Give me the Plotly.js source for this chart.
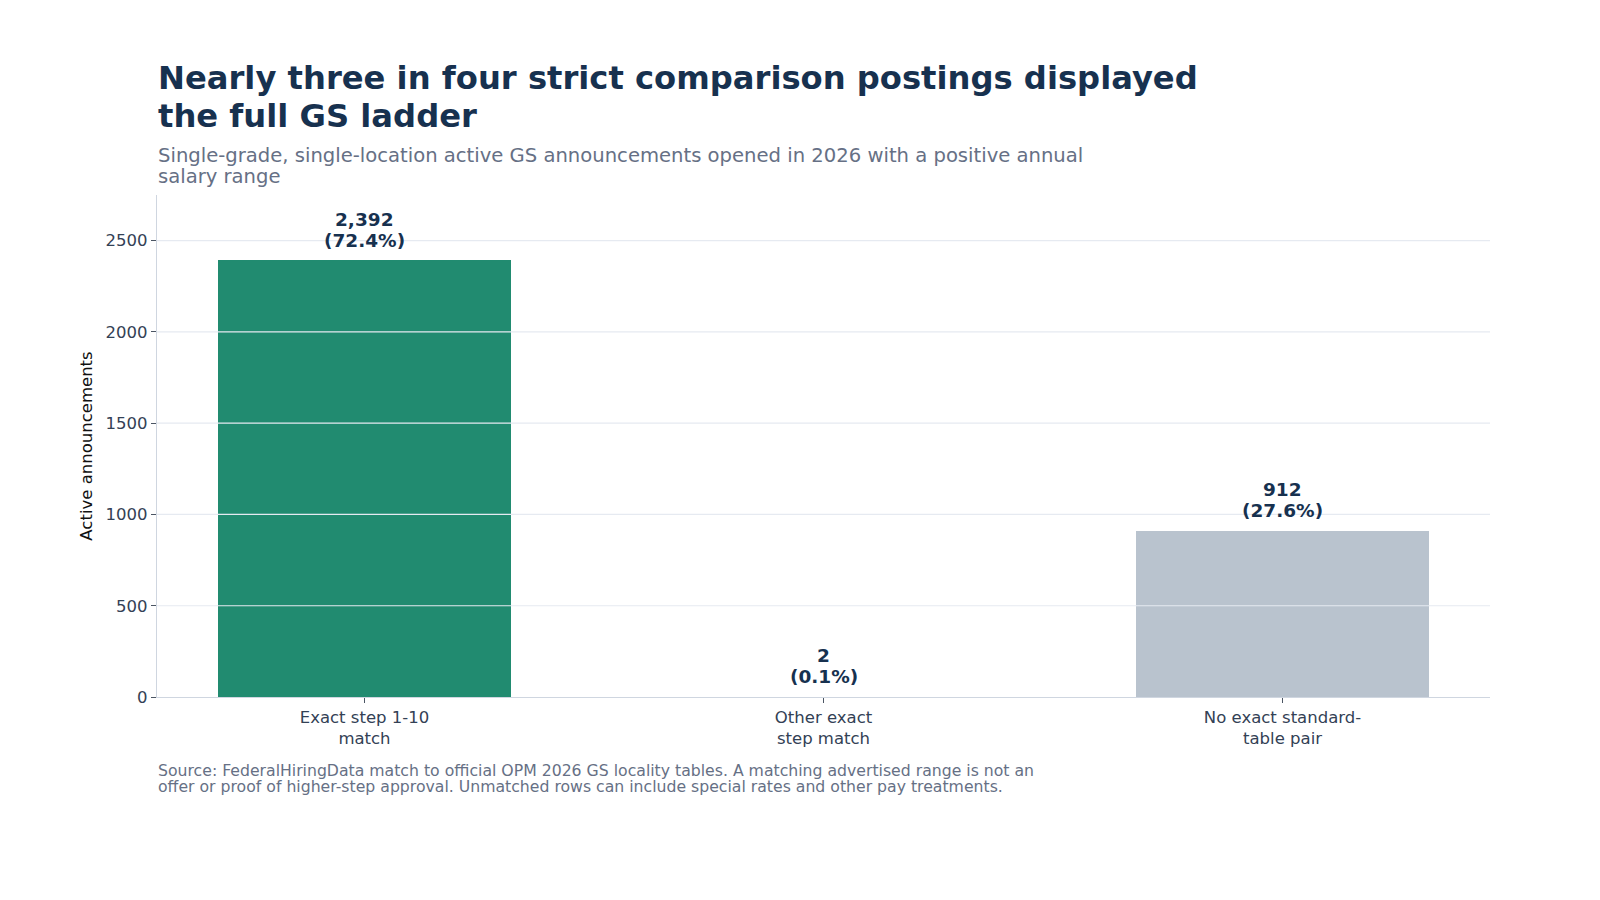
<!DOCTYPE html>
<html>
<head>
<meta charset="utf-8">
<script src="https://cdn.plot.ly/plotly-3.0.1.min.js"></script>
<style>
  html, body { margin: 0; padding: 0; background: #ffffff; }
  #plot { width: 1600px; height: 900px; }
</style>
</head>
<body>
<div id="plot"></div>
<script>
// chart data
var categories = ["Exact step 1-10<br>match", "Other exact<br>step match", "No exact standard-<br>table pair"];
var counts = [2392, 2, 912];
var shares = ["72.4%", "0.1%", "27.6%"];
var barColors = ["#218b70", "#d9a441", "#b9c3ce"];
var yTicks = [0, 500, 1000, 1500, 2000, 2500];

var titleLines = [
  "Nearly three in four strict comparison postings displayed",
  "the full GS ladder"
];
var subtitleLines = [
  "Single-grade, single-location active GS announcements opened in 2026 with a positive annual",
  "salary range"
];
var sourceLines = [
  "Source: FederalHiringData match to official OPM 2026 GS locality tables. A matching advertised range is not an",
  "offer or proof of higher-step approval. Unmatched rows can include special rates and other pay treatments."
];

var FONT = "DejaVu Sans";
var NAVY = "#17314f";
var SLATE = "#667085";

// plot box in pixels, used to place the paper-referenced text
var plotTop = 195, plotBottom = 697;
function py(p) { return (plotBottom - p) / (plotBottom - plotTop); }

var trace = {
  type: "bar",
  x: categories,
  y: counts,
  width: 0.64,
  marker: { color: barColors, line: { width: 0 } },
  hoverinfo: "skip"
};

var annotations = [];

// value labels above bars
counts.forEach(function (v, i) {
  annotations.push({
    x: categories[i], y: v, xref: "x", yref: "y",
    text: "<b>" + v.toLocaleString("en-US") + "</b>",
    showarrow: false, yanchor: "middle", yshift: 41,
    font: { family: FONT, size: 18.5, color: NAVY }
  });
  annotations.push({
    x: categories[i], y: v, xref: "x", yref: "y",
    text: "<b>(" + shares[i] + ")</b>",
    showarrow: false, yanchor: "middle", yshift: 20,
    font: { family: FONT, size: 18.5, color: NAVY }
  });
});

function textLine(txt, pixelY, size, color, bold) {
  annotations.push({
    xref: "paper", yref: "paper", x: 0, y: py(pixelY),
    xanchor: "left", yanchor: "middle",
    text: bold ? "<b>" + txt + "</b>" : txt,
    showarrow: false, borderpad: 0,
    font: { family: FONT, size: size, color: color }
  });
}

textLine(titleLines[0], 78, 32.2, NAVY, true);
textLine(titleLines[1], 116, 32.2, NAVY, true);
textLine(subtitleLines[0], 155, 19.6, SLATE, false);
textLine(subtitleLines[1], 176, 19.6, SLATE, false);
textLine(sourceLines[0], 770, 15.7, SLATE, false);
textLine(sourceLines[1], 786, 15.7, SLATE, false);

// gridlines drawn above the bars, as in the reference
var shapes = yTicks.filter(function (t) { return t > 0; }).map(function (t) {
  return {
    type: "line", xref: "paper", yref: "y",
    x0: 0, x1: 1, y0: t, y1: t,
    layer: "above",
    line: { color: "#e6eaf1", width: 1.2 }
  };
});

var layout = {
  width: 1600,
  height: 900,
  paper_bgcolor: "#ffffff",
  plot_bgcolor: "#ffffff",
  margin: { l: 157, r: 110, t: 195, b: 203, autoexpand: false },
  showlegend: false,
  bargap: 0,
  font: { family: FONT, color: "#334155" },
  xaxis: {
    type: "category",
    range: [-0.452, 2.452],
    showgrid: false,
    zeroline: false,
    showline: true,
    linecolor: "#cfd6e0",
    linewidth: 1.2,
    ticks: "outside",
    ticklen: 5,
    tickcolor: "#4b5563",
    tickfont: { family: FONT, size: 16.5, color: "#334155" },
    fixedrange: true
  },
  yaxis: {
    range: [0, 2750],
    tickvals: yTicks,
    ticktext: yTicks.map(String),
    showgrid: false,
    zeroline: false,
    showline: true,
    linecolor: "#cfd6e0",
    linewidth: 1.2,
    ticks: "outside",
    ticklen: 5,
    tickcolor: "#4b5563",
    tickfont: { family: FONT, size: 16.5, color: "#334155" },
    title: {
      text: "Active announcements",
      font: { family: FONT, size: 16.5, color: "#111111" },
      standoff: 8
    },
    automargin: false,
    fixedrange: true
  },
  annotations: annotations,
  shapes: shapes
};

Plotly.newPlot("plot", [trace], layout, { displayModeBar: false, staticPlot: true });
</script>
</body>
</html>
